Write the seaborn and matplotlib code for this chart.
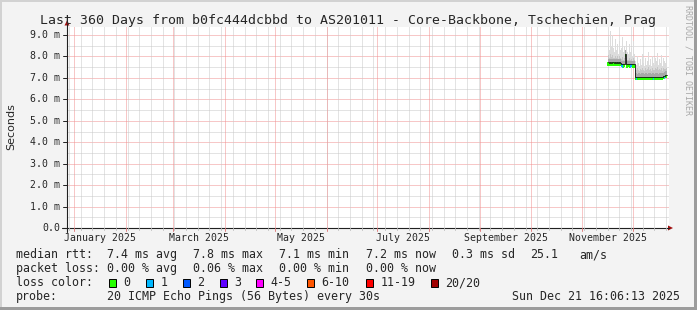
import numpy as np
import pandas as pd
import matplotlib
matplotlib.use("Agg")
import matplotlib.pyplot as plt
import seaborn as sns
from matplotlib.patches import Rectangle, Polygon
from matplotlib.lines import Line2D

# ---------------- data ----------------
title = "Last 360 Days from b0fc444dcbbd to AS201011 - Core-Backbone, Tschechien, Prag"
y_label = "Seconds"
y_ticks = [0, 1, 2, 3, 4, 5, 6, 7, 8, 9]
y_tick_labels = ["0.0", "1.0 m", "2.0 m", "3.0 m", "4.0 m", "5.0 m",
                 "6.0 m", "7.0 m", "8.0 m", "9.0 m"]
month_labels = ["January 2025", "March 2025", "May 2025", "July 2025",
                "September 2025", "November 2025"]
month_label_starts = ["2025-01-01", "2025-03-01", "2025-05-01", "2025-07-01",
                      "2025-09-01", "2025-11-01"]
month_label_ends = ["2025-02-01", "2025-04-01", "2025-06-01", "2025-08-01",
                    "2025-10-01", "2025-12-01"]
axis_start = "2024-12-27 19:12"
axis_end = "2025-12-22 18:00"
first_sample = "2025-11-16 00:00"

# median rtt in ms (one value per consolidated sample)
median_ms = [7.72, 7.72, 7.71, 7.72, 7.71, 7.72, 7.72, 7.71, 7.72, 7.71, 7.72, 7.71, 7.72, 7.71,
             7.64, 7.63, 7.63, 7.64, 8.12, 7.63, 7.63, 7.64, 7.63, 7.63, 7.64, 7.63, 7.63, 7.63,
             7.05, 7.05, 7.04, 7.05, 7.05, 7.04, 7.05, 7.05, 7.05, 7.04, 7.05, 7.05, 7.04, 7.05,
             7.05, 7.05, 7.04, 7.05, 7.05, 7.04, 7.05, 7.05, 7.05, 7.04, 7.05, 7.05, 7.05, 7.06,
             7.08, 7.10, 7.14, 7.15]
# packet loss (pings lost of 20)
loss_count = [0, 0, 0, 0, 0, 0, 0, 0, 0, 0, 0, 0, 0, 0,
              1, 1, 0, 0, 0, 0, 0, 0, 0, 1, 1, 0, 0, 0,
              0, 1, 0, 0, 0, 0, 0, 0, 0, 0, 0, 0, 0, 0,
              0, 0, 0, 0, 1, 0, 0, 0, 0, 0, 0, 0, 0, 0,
              0, 1, 0, 0]
# smoke: max ping (light), upper part of distribution (mid)
smoke_max_ms = [8.6, 8.9, 8.3, 9.2, 8.5, 9.0, 8.4, 8.2, 8.8, 8.3, 8.6, 8.1, 8.7, 8.3,
                8.4, 8.9, 8.2, 8.5, 8.3, 8.7, 8.2, 8.1, 8.6, 8.2, 8.4, 8.0, 8.7, 8.1,
                7.8, 7.6, 8.0, 7.7, 7.55, 7.9, 7.6, 8.1, 7.7, 7.55, 7.95, 7.6, 7.8, 8.2,
                7.6, 7.9, 7.55, 8.0, 7.7, 7.6, 7.95, 7.8, 8.15, 7.6, 7.9, 7.7, 8.05, 7.55,
                7.95, 7.8, 7.7, 8.0]
smoke_mid_ms = [8.00, 8.05, 7.95, 8.10, 7.98, 8.05, 7.95, 7.92, 8.02, 7.95, 8.00, 7.90, 8.02, 7.95,
                7.90, 7.98, 7.85, 7.92, 7.88, 7.95, 7.85, 7.82, 7.92, 7.85, 7.88, 7.80, 7.92, 7.82,
                7.40, 7.35, 7.45, 7.38, 7.32, 7.42, 7.36, 7.48, 7.38, 7.34, 7.44, 7.36, 7.40, 7.50,
                7.35, 7.42, 7.33, 7.45, 7.38, 7.35, 7.44, 7.40, 7.50, 7.35, 7.42, 7.38, 7.46, 7.34,
                7.44, 7.42, 7.40, 7.45]

legend_rows = [
    ("median rtt:", ["7.4 ms avg", "7.8 ms max", "7.1 ms min", "7.2 ms now", "0.3 ms sd", "25.1", "am/s"]),
    ("packet loss:", ["0.00 % avg", "0.06 % max", "0.00 % min", "0.00 % now"]),
]
loss_names = ["0", "1", "2", "3", "4-5", "6-10", "11-19", "20/20"]
loss_colors = ["#26ff00", "#00b8ff", "#0059ff", "#5e00ff", "#ff00ff", "#ff5500", "#ff0000", "#a00000"]
probe_text = "20 ICMP Echo Pings (56 Bytes) every 30s"
date_text = "Sun Dec 21 16:06:13 2025"
credit = "RRDTOOL / TOBI OETIKER"

# ---------------- figure ----------------
W, H = 697, 310
sns.set_style("white")
plt.rcParams["font.family"] = ["DejaVu Sans Mono", "DejaVu Sans"]
fig = plt.figure(figsize=(W / 100, H / 100), dpi=100, facecolor="#f3f3f3")

def fx(x):
    return x / W

def fy(y):
    return 1 - y / H

t0 = pd.Timestamp("2025-01-01")
def dnum(s):
    return (pd.Timestamp(s) - t0) / pd.Timedelta(days=1)

xl, xr = dnum(axis_start), dnum(axis_end)
left_px, right_px, top_px, bot_px = 67, 669, 26.7, 228
ax = fig.add_axes([fx(left_px), fy(bot_px), (right_px - left_px) / W, (bot_px - top_px) / H])
ax.set_facecolor("white")
ax.set_xlim(xl, xr)
ax.set_ylim(0, 9.0 * (bot_px - top_px) / (bot_px - 35))
for s in ax.spines.values():
    s.set_visible(False)
ax.set_xticks([])
ax.set_yticks([])

# grid (dotted lines)
minor_c, major_c = "#c8c8c8", "#f09090"
gkw = dict(lw=0.72, ls=(0, (1, 1)), zorder=0)
for v in np.arange(0.5, 9.5, 1.0):
    ax.axhline(v, color=minor_c, **gkw)
for v in y_ticks[1:]:
    ax.axhline(v, color=major_c, **gkw)
sundays = pd.date_range("2024-12-29", "2025-12-22", freq="7D")
for d in sundays:
    ax.axvline(dnum(d), color=minor_c, **gkw)
month_starts = pd.date_range("2025-01-01", "2025-12-01", freq="MS")
for d in month_starts:
    ax.axvline(dnum(d), color=major_c, **gkw)

# data
times = pd.date_range(first_sample, periods=len(median_ms), freq="864min")
xs = np.array([dnum(t) for t in times])
med = np.array(median_ms)
ax.fill_between(xs, med - 0.1, np.array(smoke_max_ms), step="mid", color="#dcdcdc",
                lw=0, zorder=2)
ax.fill_between(xs, med - 0.1, np.array(smoke_mid_ms), step="mid", color="#c6c6c6",
                lw=0, zorder=3)
ax.fill_between(xs, med - 0.04, med + 0.16, step="mid", color="#a8a8a8", lw=0, zorder=4)
ax.bar(xs, 0.15, bottom=med - 0.15, width=0.6 * 1.25, linewidth=0,
       color=[loss_colors[c] for c in loss_count], zorder=5)
df = pd.DataFrame({"x": xs, "median": med})
sns.lineplot(data=df, x="x", y="median", ax=ax, color="#151515", lw=0.6,
             drawstyle="steps-mid", zorder=6)
ax.set_xlabel("")
ax.set_ylabel("")

# axes lines with arrows
ax_col = "#202020"
fig.add_artist(Line2D([fx(62), fx(669)], [fy(228), fy(228)], color=ax_col, lw=0.8))
fig.add_artist(Line2D([fx(67), fx(67)], [fy(232), fy(24)], color=ax_col, lw=0.8))
fig.add_artist(Polygon([[fx(668), fy(225.5)], [fx(673), fy(228)], [fx(668), fy(230.5)]],
                       closed=True, color="#a01010", lw=0))
fig.add_artist(Polygon([[fx(64.5), fy(25.5)], [fx(67), fy(20.5)], [fx(69.5), fy(25.5)]],
                       closed=True, color="#a01010", lw=0))

# ticks
def xpx(d):
    return left_px + (d - xl) / (xr - xl) * (right_px - left_px)

def ypx(v):
    return bot_px - v * (bot_px - 35) / 9.0

for d in sundays:
    X = xpx(dnum(d))
    if left_px < X < right_px:
        fig.add_artist(Line2D([fx(X), fx(X)], [fy(228), fy(230)], color="#c0c0c0", lw=0.7))
for d in month_starts:
    X = xpx(dnum(d))
    fig.add_artist(Line2D([fx(X), fx(X)], [fy(228), fy(231)], color="#e08080", lw=0.7))
for v in y_ticks:
    Y = ypx(v)
    fig.add_artist(Line2D([fx(63), fx(67)], [fy(Y), fy(Y)], color=ax_col, lw=0.7))

# tick labels
for v, lab in zip(y_ticks, y_tick_labels):
    fig.text(fx(60), fy(ypx(v)), lab, ha="right", va="center", fontsize=7.1,
             family="DejaVu Sans Mono")
for lab, s, e in zip(month_labels, month_label_starts, month_label_ends):
    c = (dnum(s) + dnum(e)) / 2
    fig.text(fx(xpx(c)), fy(241), lab, ha="center", va="baseline", fontsize=7.1,
             family="DejaVu Sans Mono")

# title, axis label, credit
fig.text(fx(348), fy(24), title, ha="center", va="baseline", fontsize=9.55,
         family="DejaVu Sans Mono")
fig.text(fx(11), fy(127), y_label, ha="center", va="center", rotation=90,
         fontsize=8.0, family="DejaVu Sans")
fig.text(fx(688), fy(5), credit, ha="center", va="top", rotation=270,
         fontsize=6.0, family="DejaVu Sans Mono", color="#a8a8a8")

# legend
lf = 8.42
row_base = [258, 272, 286, 300]
item_x = [107, 193, 279, 366, 452, 530, 579]
for r, (head, items) in enumerate(legend_rows):
    fig.text(fx(16), fy(row_base[r]), head, ha="left", va="baseline", fontsize=lf)
    for xi, it in zip(item_x, items):
        fig.text(fx(xi), fy(row_base[r]), it, ha="left", va="baseline", fontsize=lf)

fig.text(fx(16), fy(row_base[2]), "loss color:", ha="left", va="baseline", fontsize=lf)
box_x = [109, 146, 183, 219.5, 256, 307, 366, 431]
for bx, name, col in zip(box_x, loss_names, loss_colors):
    fig.add_artist(Rectangle((fx(bx), fy(287)), 7 / W, 8 / H, facecolor=col,
                             edgecolor="black", lw=0.7))
    fig.text(fx(bx + 14.5), fy(row_base[2]), name, ha="left", va="baseline", fontsize=lf)

fig.text(fx(16), fy(row_base[3]), "probe:", ha="left", va="baseline", fontsize=lf)
fig.text(fx(107), fy(row_base[3]), probe_text, ha="left", va="baseline", fontsize=lf)
fig.text(fx(680), fy(row_base[3]), date_text, ha="right", va="baseline", fontsize=lf)

# frame
fig.add_artist(Rectangle((0, fy(2)), 1, 2 / H, facecolor="#d2d2d2", lw=0))
fig.add_artist(Rectangle((0, 0), 2 / W, 1, facecolor="#d2d2d2", lw=0))
fig.add_artist(Rectangle((0, 0), 1, 3 / H, facecolor="#9c9c9c", lw=0))
fig.add_artist(Rectangle((fx(694), 0), 3 / W, 1, facecolor="#9c9c9c", lw=0))

fig.savefig("out.png", dpi=100, facecolor=fig.get_facecolor())
